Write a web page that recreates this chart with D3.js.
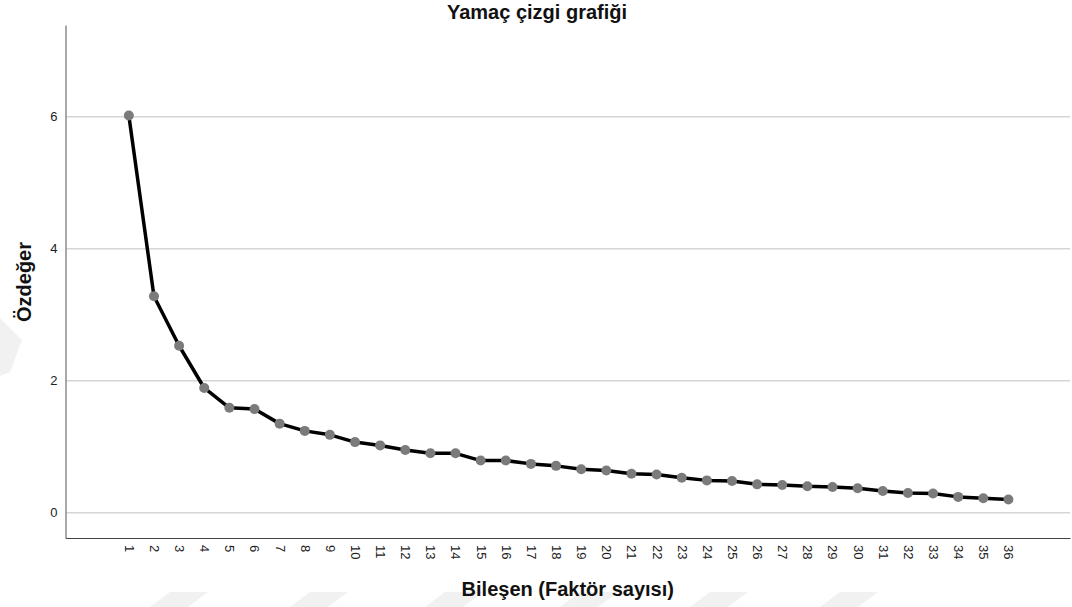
<!DOCTYPE html>
<html lang="tr">
<head>
  <meta charset="UTF-8" />
  <title>Yamaç çizgi grafiği</title>
  <script src="https://d3js.org/d3.v7.min.js"></script>
  <style>
    body {
      margin: 0;
      background: #fff;
      font-family: 'Liberation Sans', Arial, sans-serif;
    }
    svg { display: block; }
    .grid line { stroke: #d6d6d6; stroke-width: 1.5px; }
    .y-axis path { stroke: #8c8c8c; stroke-width: 1.5px; }
    .x-axis path { stroke: #444; stroke-width: 1.2px; }
    .axis text { fill: #222; font-size: 13px; font-family: 'Liberation Sans', Arial, sans-serif; }
    .label { font-weight: bold; font-size: 20px; fill: #111; }
  </style>
</head>
<body>
  <div id="chart"></div>

  <script>
    // scree plot values
    const components = [1, 2, 3, 4, 5, 6, 7, 8, 9, 10, 11, 12, 13, 14, 15, 16, 17, 18,
      19, 20, 21, 22, 23, 24, 25, 26, 27, 28, 29, 30, 31, 32, 33, 34, 35, 36];
    const eigenvalues = [6.02, 3.28, 2.53, 1.89, 1.59, 1.57, 1.35, 1.24, 1.18, 1.07,
      1.02, 0.95, 0.90, 0.90, 0.79, 0.79, 0.74, 0.71, 0.66, 0.64, 0.59, 0.58,
      0.53, 0.49, 0.48, 0.43, 0.42, 0.40, 0.39, 0.37, 0.33, 0.30, 0.29, 0.24, 0.22, 0.20];
    const yTicks = [0, 2, 4, 6];

    const width = 1072, height = 607;
    const plotLeft = 65.5, plotRight = 1070, plotTop = 25, plotBottom = 538;

    const svg = d3.select("#chart").append("svg")
      .attr("width", width)
      .attr("height", height);

    // faint background watermark shapes
    const wm = svg.append("g").attr("fill", "#f1f1f1");
    [150, 290, 425, 560, 690, 820].forEach(px => {
      wm.append("path").attr("d", `M${px + 20},592 L${px + 58},592 L${px + 38},607 L${px},607 Z`);
    });
    wm.append("path").attr("d", "M0,318 L22,340 L10,372 L0,376 Z");

    const x = d3.scaleLinear().domain([-1.52, 38.45]).range([plotLeft, plotRight]);
    const y = d3.scaleLinear().domain([-0.383, 7.39]).range([plotBottom, plotTop]);

    // gridlines
    svg.append("g")
      .attr("class", "grid")
      .selectAll("line")
      .data(yTicks)
      .join("line")
      .attr("x1", plotLeft)
      .attr("x2", plotRight)
      .attr("y1", d => y(d))
      .attr("y2", d => y(d));

    // y axis
    svg.append("g")
      .attr("class", "axis y-axis")
      .attr("transform", `translate(${plotLeft},0)`)
      .call(d3.axisLeft(y).tickValues(yTicks).tickSize(0).tickSizeOuter(0).tickPadding(8));

    // x axis with rotated labels
    const xAxis = svg.append("g")
      .attr("class", "axis x-axis")
      .attr("transform", `translate(0,${plotBottom})`)
      .call(d3.axisBottom(x).tickValues(components).tickSize(0).tickSizeOuter(0));

    xAxis.selectAll(".tick text")
      .attr("transform", "rotate(90)")
      .attr("x", 7)
      .attr("y", 0)
      .attr("dy", "0.35em")
      .attr("text-anchor", "start");

    svg.selectAll(".domain").attr("fill", "none");

    // line + points
    const line = d3.line()
      .x((d, i) => x(components[i]))
      .y(d => y(d));

    svg.append("path")
      .datum(eigenvalues)
      .attr("fill", "none")
      .attr("stroke", "#000")
      .attr("stroke-width", 3.5)
      .attr("stroke-linejoin", "round")
      .attr("d", line);

    svg.append("g")
      .selectAll("circle")
      .data(eigenvalues)
      .join("circle")
      .attr("cx", (d, i) => x(components[i]))
      .attr("cy", d => y(d))
      .attr("r", 5)
      .attr("fill", "#7b7b7b");

    // titles
    svg.append("text")
      .attr("class", "label")
      .attr("x", 537)
      .attr("y", 19)
      .attr("text-anchor", "middle")
      .text("Yamaç çizgi grafiği");

    svg.append("text")
      .attr("class", "label")
      .attr("x", (plotLeft + plotRight) / 2)
      .attr("y", 596)
      .attr("text-anchor", "middle")
      .text("Bileşen (Faktör sayısı)");

    svg.append("text")
      .attr("class", "label")
      .attr("transform", "translate(31,282) rotate(-90)")
      .attr("text-anchor", "middle")
      .text("Özdeğer");
  </script>
</body>
</html>
